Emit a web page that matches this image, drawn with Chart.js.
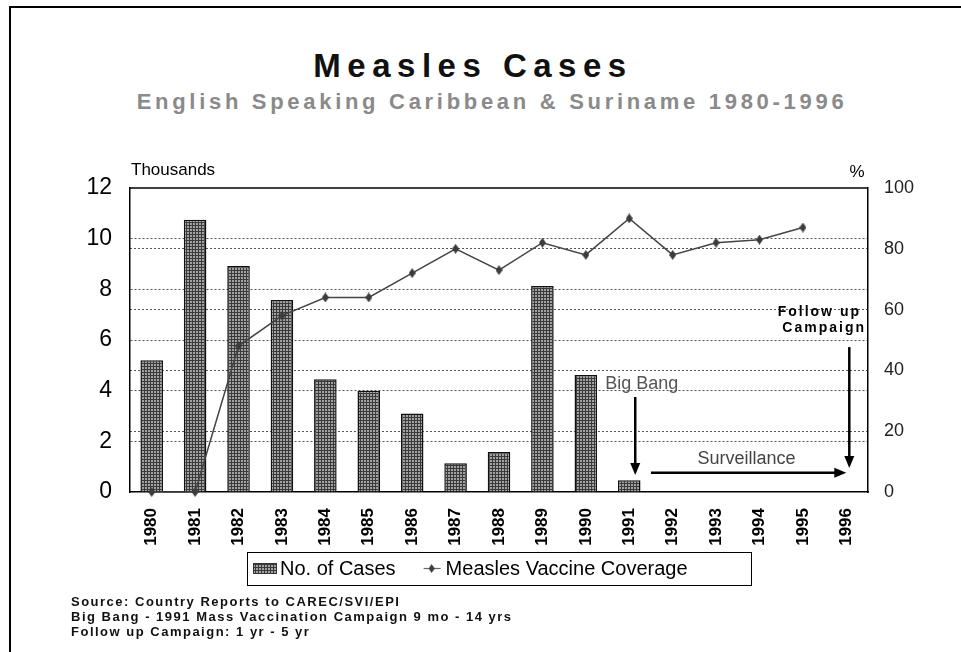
<!DOCTYPE html>
<html>
<head>
<meta charset="utf-8">
<script src="https://cdn.jsdelivr.net/npm/chart.js@4.4.1/dist/chart.umd.min.js"></script>
<style>
html,body{margin:0;padding:0;background:#fff;}
body{width:961px;height:652px;position:relative;overflow:hidden;font-family:"Liberation Sans",Arial,sans-serif;}
#frame{position:absolute;left:9px;top:6px;width:960px;height:700px;border-left:2px solid #000;border-top:2px solid #000;}
#title{position:absolute;left:0;top:49px;width:946px;text-align:center;font-weight:bold;font-size:33px;line-height:1;letter-spacing:6.5px;color:#111;}
#subtitle{position:absolute;left:0;top:91px;width:984px;text-align:center;font-weight:bold;font-size:22px;line-height:1;letter-spacing:3.7px;color:#8a8a8a;}
#notes{position:absolute;left:71px;top:594px;font-weight:bold;font-size:13px;line-height:15px;letter-spacing:1.5px;color:#111;}
#c{position:absolute;left:0;top:0;}
</style>
</head>
<body>
<div id="frame"></div>
<div id="title">Measles Cases</div>
<div id="subtitle">English Speaking Caribbean &amp; Suriname 1980-1996</div>
<canvas id="c" width="961" height="652"></canvas>
<div id="notes">Source: Country Reports to CAREC/SVI/EPI<br>Big Bang - 1991 Mass Vaccination Campaign 9 mo - 14 yrs<br>Follow up Campaign: 1 yr - 5 yr</div>
<script>
// values
const years = ['1980','1981','1982','1983','1984','1985','1986','1987','1988','1989','1990','1991','1992','1993','1994','1995','1996'];
const cases = [5.2, 10.75, 8.92, 7.58, 4.45, 4.0, 3.1, 1.13, 1.58, 8.13, 4.62, 0.46, null, null, null, null, null]; // thousands
const coverage = [0, 0, 48, 58, 64, 64, 72, 80, 73, 82, 78, 90, 78, 82, 83, 87, null]; // %
const casesTicks = [0, 2, 4, 6, 8, 10, 12];
const coverageTicks = [0, 20, 40, 60, 80, 100];

function makePattern() {
  let c = document.createElement('canvas');
  c.width = 3; c.height = 3;
  let g = c.getContext('2d');
  g.fillStyle = '#a2a2a2'; g.fillRect(0, 0, 3, 3);
  g.fillStyle = '#3a3a3a'; g.fillRect(0, 0, 3, 1); g.fillRect(0, 0, 1, 3);
  return g.createPattern(c, 'repeat');
}

function makeDiamond() {
  let c = document.createElement('canvas');
  c.width = 7; c.height = 10;
  let g = c.getContext('2d');
  g.fillStyle = '#3c3c3c';
  g.beginPath(); g.moveTo(3.5, 0); g.lineTo(7, 5); g.lineTo(3.5, 10); g.lineTo(0, 5); g.closePath(); g.fill();
  return c;
}

function arrow(ctx, x1, y1, x2, y2) {
  let ang = Math.atan2(y2 - y1, x2 - x1), L = 12, W = 5;
  let cs = Math.cos(ang), sn = Math.sin(ang);
  ctx.beginPath(); ctx.moveTo(x1, y1); ctx.lineTo(x2 - L * cs * 0.7, y2 - L * sn * 0.7); ctx.stroke();
  ctx.beginPath(); ctx.moveTo(x2, y2);
  ctx.lineTo(x2 - L * cs + W * sn, y2 - L * sn - W * cs);
  ctx.lineTo(x2 - L * cs - W * sn, y2 - L * sn + W * cs);
  ctx.closePath(); ctx.fill();
}

const pattern = makePattern();
const diamond = makeDiamond();

const overlay = {
  id: 'overlay',
  afterDraw(chart) {
    let ctx = chart.ctx, a = chart.chartArea, x = chart.scales.x, y = chart.scales.y;
    ctx.save();
    ctx.strokeStyle = '#000'; ctx.lineWidth = 1.5;
    ctx.beginPath(); ctx.moveTo(a.left, a.top); ctx.lineTo(a.right, a.top); ctx.stroke();

    ctx.fillStyle = '#000'; ctx.textBaseline = 'middle';
    ctx.font = '17px "Liberation Sans"';
    ctx.textAlign = 'left'; ctx.fillText('Thousands', a.left + 1, a.top - 18);
    ctx.textAlign = 'center'; ctx.fillText('%', a.right - 11, a.top - 16);

    // Big Bang
    ctx.fillStyle = '#555'; ctx.textAlign = 'left';
    ctx.font = '18px "Liberation Sans"';
    ctx.fillText('Big Bang', x.getPixelForValue(11) - 24, y.getPixelForValue(4.25));
    ctx.fillStyle = '#000'; ctx.strokeStyle = '#000'; ctx.lineWidth = 2.5;
    arrow(ctx, x.getPixelForValue(11) + 6, y.getPixelForValue(3.75), x.getPixelForValue(11) + 6, y.getPixelForValue(0.67));

    // Surveillance
    ctx.fillStyle = '#444'; ctx.textAlign = 'center';
    ctx.font = '18px "Liberation Sans"';
    ctx.fillText('Surveillance', x.getPixelForValue(13.7), y.getPixelForValue(1.3));
    ctx.fillStyle = '#000';
    arrow(ctx, x.getPixelForValue(11.5), y.getPixelForValue(0.76), x.getPixelForValue(16), y.getPixelForValue(0.76));

    // Follow up
    ctx.font = 'bold 14px "Liberation Sans"';
    ctx.letterSpacing = '2px';
    ctx.textAlign = 'left'; ctx.textBaseline = 'alphabetic';
    let w1 = ctx.measureText('Follow up').width, w2 = ctx.measureText('Campaign').width;
    ctx.fillText('Follow up', a.right - 7 - w1, y.getPixelForValue(6.95));
    ctx.fillText('Campaign', a.right - 2 - w2, y.getPixelForValue(6.3));
    ctx.letterSpacing = '0px';
    arrow(ctx, x.getPixelForValue(16) + 3, y.getPixelForValue(5.72), x.getPixelForValue(16) + 3, y.getPixelForValue(0.95));

    // legend
    let ds = chart.data.datasets;
    let cx = (a.left + a.right) / 2, bw = 504, bx = Math.round(cx - bw / 2), by = Math.round(a.bottom + 60), bh = 33;
    ctx.lineWidth = 1; ctx.strokeStyle = '#000';
    ctx.strokeRect(bx + 0.5, by + 0.5, bw, bh);
    ctx.fillStyle = pattern; ctx.fillRect(bx + 6, by + 11, 24, 11);
    ctx.strokeStyle = '#333'; ctx.strokeRect(bx + 6.5, by + 11.5, 23, 10);
    ctx.fillStyle = '#000'; ctx.font = '20px "Liberation Sans"';
    ctx.textAlign = 'left'; ctx.textBaseline = 'alphabetic';
    let barLab = ds[1].label, lineLab = ds[0].label;
    ctx.fillText(barLab, bx + 33, by + 23);
    let lx = bx + 33 + ctx.measureText(barLab).width + 28;
    ctx.strokeStyle = '#666'; ctx.lineWidth = 1.2;
    ctx.beginPath(); ctx.moveTo(lx, by + 16.5); ctx.lineTo(lx + 17, by + 16.5); ctx.stroke();
    ctx.drawImage(diamond, lx + 5, by + 12, 6, 9);
    ctx.fillText(lineLab, lx + 22, by + 23);
    ctx.restore();
  }
};

function gridColor(lo, hi) {
  return function(c) { return (c.tick && c.tick.value > lo && c.tick.value < hi) ? '#555' : 'rgba(0,0,0,0)'; };
}

new Chart(document.getElementById('c'), {
  data: {
    labels: years,
    datasets: [
      {type: 'line', label: 'Measles Vaccine Coverage', data: coverage, yAxisID: 'y1', order: 0, clip: false,
       borderColor: '#444', borderWidth: 1.5, tension: 0, pointStyle: diamond, pointRadius: 4},
      {type: 'bar', label: 'No. of Cases', data: cases, yAxisID: 'y', order: 1,
       backgroundColor: pattern, borderColor: '#111', borderWidth: 1.5, borderSkipped: 'bottom',
       barPercentage: 0.52, categoryPercentage: 1}
    ]
  },
  options: {
    responsive: false, animation: false, devicePixelRatio: 1,
    layout: {padding: {top: 188, left: 0, right: 0, bottom: 0}},
    plugins: {legend: {display: false}, tooltip: {enabled: false}, title: {display: false}},
    scales: {
      x: {
        grid: {display: false, drawTicks: false},
        border: {display: true, color: '#000', width: 1.5},
        ticks: {minRotation: 90, maxRotation: 90, autoSkip: false, padding: 16, color: '#000',
                font: {family: '"Liberation Sans"', size: 17, weight: 'bold'}},
        afterFit: s => { s.height = 160; }
      },
      y: {
        position: 'left', min: casesTicks[0], max: casesTicks[casesTicks.length - 1],
        grid: {drawTicks: false, color: gridColor(0, 12), lineWidth: 1},
        border: {display: true, color: '#000', width: 1.5, dash: [2, 2]},
        ticks: {stepSize: casesTicks[1] - casesTicks[0], padding: 18, color: '#000',
                font: {family: '"Liberation Sans"', size: 23}},
        afterFit: s => { s.width = 130; }
      },
      y1: {
        position: 'right', min: coverageTicks[0], max: coverageTicks[coverageTicks.length - 1],
        grid: {drawTicks: false, color: gridColor(0, 100), lineWidth: 1},
        border: {display: true, color: '#000', width: 1.5, dash: [2, 2]},
        ticks: {stepSize: coverageTicks[1] - coverageTicks[0], padding: 16, color: '#222',
                font: {family: '"Liberation Sans"', size: 18}},
        afterFit: s => { s.width = 93; }
      }
    }
  },
  plugins: [overlay]
});
</script>
</body>
</html>
